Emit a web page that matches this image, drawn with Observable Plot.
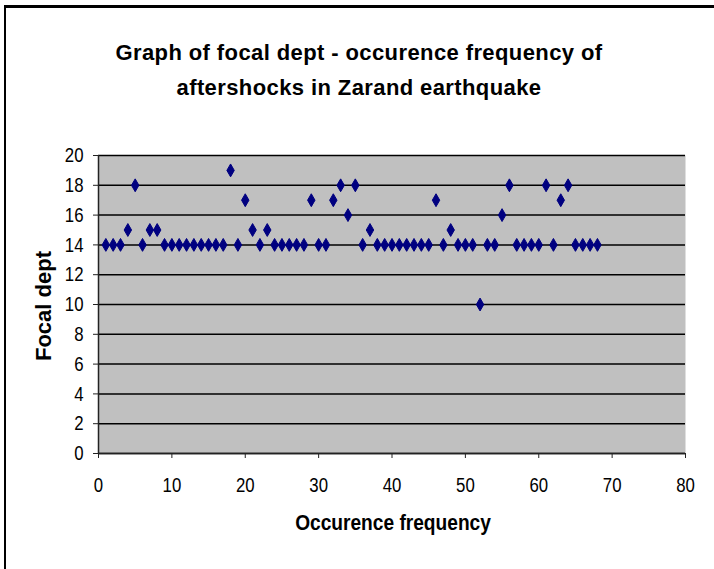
<!DOCTYPE html>
<html>
<head>
<meta charset="utf-8">
<script src="https://cdn.jsdelivr.net/npm/d3@7"></script>
<script src="https://cdn.jsdelivr.net/npm/@observablehq/plot@0.6"></script>
<style>
  html, body { margin: 0; padding: 0; background: #fff; }
  #chart { position: relative; width: 714px; height: 569px; overflow: hidden; background: #fff; font-family: "Liberation Sans", Arial, sans-serif; }
  .frame-left { position: absolute; left: 4px; top: 5px; width: 2px; height: 564px; background: #000; }
  .frame-top { position: absolute; left: 4px; top: 5px; width: 710px; height: 2.5px; background: #000; }
  .title { position: absolute; left: 2px; width: 714px; text-align: center; font-size: 22px; font-weight: bold; letter-spacing: 0.4px; color: #000; line-height: 35px; top: 35px; }
  .ylab { position: absolute; left: 44px; top: 306px; transform: translate(-50%, -50%) rotate(-90deg); font-size: 22px; font-weight: bold; white-space: nowrap; }
  .xlab { position: absolute; left: 393px; top: 523px; transform: translate(-50%, -50%) scale(0.87, 1); font-size: 22px; font-weight: bold; white-space: nowrap; }
  #plot { position: absolute; left: 0; top: 130px; }
</style>
</head>
<body>
<div id="chart">
  <div class="frame-left"></div>
  <div class="frame-top"></div>
  <div class="title">Graph of focal dept - occurence frequency of<br>aftershocks in Zarand earthquake</div>
  <div class="ylab">Focal dept</div>
  <div class="xlab">Occurence frequency</div>
  <div id="plot"></div>
</div>
<script>
const occurrence = [
  1, 2, 3, 4, 5, 6, 7, 8, 9, 10,
  11, 12, 13, 14, 15, 16, 17, 18, 19, 20,
  21, 22, 23, 24, 25, 26, 27, 28, 29, 30,
  31, 32, 33, 34, 35, 36, 37, 38, 39, 40,
  41, 42, 43, 44, 45, 46, 47, 48, 49, 50,
  51, 52, 53, 54, 55, 56, 57, 58, 59, 60,
  61, 62, 63, 64, 65, 66, 67, 68
];
const focalDepth = [
  14, 14, 14, 15, 18, 14, 15, 15, 14, 14,
  14, 14, 14, 14, 14, 14, 14, 19, 14, 17,
  15, 14, 15, 14, 14, 14, 14, 14, 17, 14,
  14, 17, 18, 16, 18, 14, 15, 14, 14, 14,
  14, 14, 14, 14, 14, 17, 14, 15, 14, 14,
  14, 10, 14, 14, 16, 18, 14, 14, 14, 14,
  18, 14, 17, 18, 14, 14, 14, 14
];
const xTicks = [0, 10, 20, 30, 40, 50, 60, 70, 80];
const yTicks = [0, 2, 4, 6, 8, 10, 12, 14, 16, 18, 20];

const data = occurrence.map((x, i) => ({x, y: focalDepth[i]}));

const chart = Plot.plot({
  width: 714,
  height: 420,
  marginTop: 25,
  marginBottom: 97,
  marginLeft: 98,
  marginRight: 29,
  style: {
    background: "transparent",
    fontFamily: "'Liberation Sans', Arial, sans-serif",
    fontSize: "21px",
    color: "#000"
  },
  x: {domain: [0, 80]},
  y: {domain: [0, 20]},
  marks: [
    Plot.frame({fill: "#c0c0c0", stroke: "none"}),
    Plot.gridY(yTicks, {stroke: "#000", strokeOpacity: 1, strokeWidth: 1.5}),
    Plot.axisY(yTicks, {tickSize: 5, tickPadding: 10, label: null, stroke: "#222"}),
    Plot.axisX(xTicks, {tickSize: 5, tickPadding: 19, label: null, stroke: "#222"}),
    Plot.ruleX([0], {stroke: "#222", strokeWidth: 1.5}),
    Plot.ruleY([0], {stroke: "#222", strokeWidth: 1.5}),
    Plot.dot(data, {x: "x", y: "y", symbol: "diamond", fill: "#000080", stroke: "#000080", strokeWidth: 1, r: 3.9})
  ]
});
// condense the tick labels horizontally (narrow font look of the original)
d3.select(chart).selectAll("g[aria-label$='tick label'] text").each(function() {
  const t = this.getAttribute("transform") || "";
  this.setAttribute("transform", t + " scale(0.8,1)");
});
document.getElementById("plot").appendChild(chart);
</script>
</body>
</html>
